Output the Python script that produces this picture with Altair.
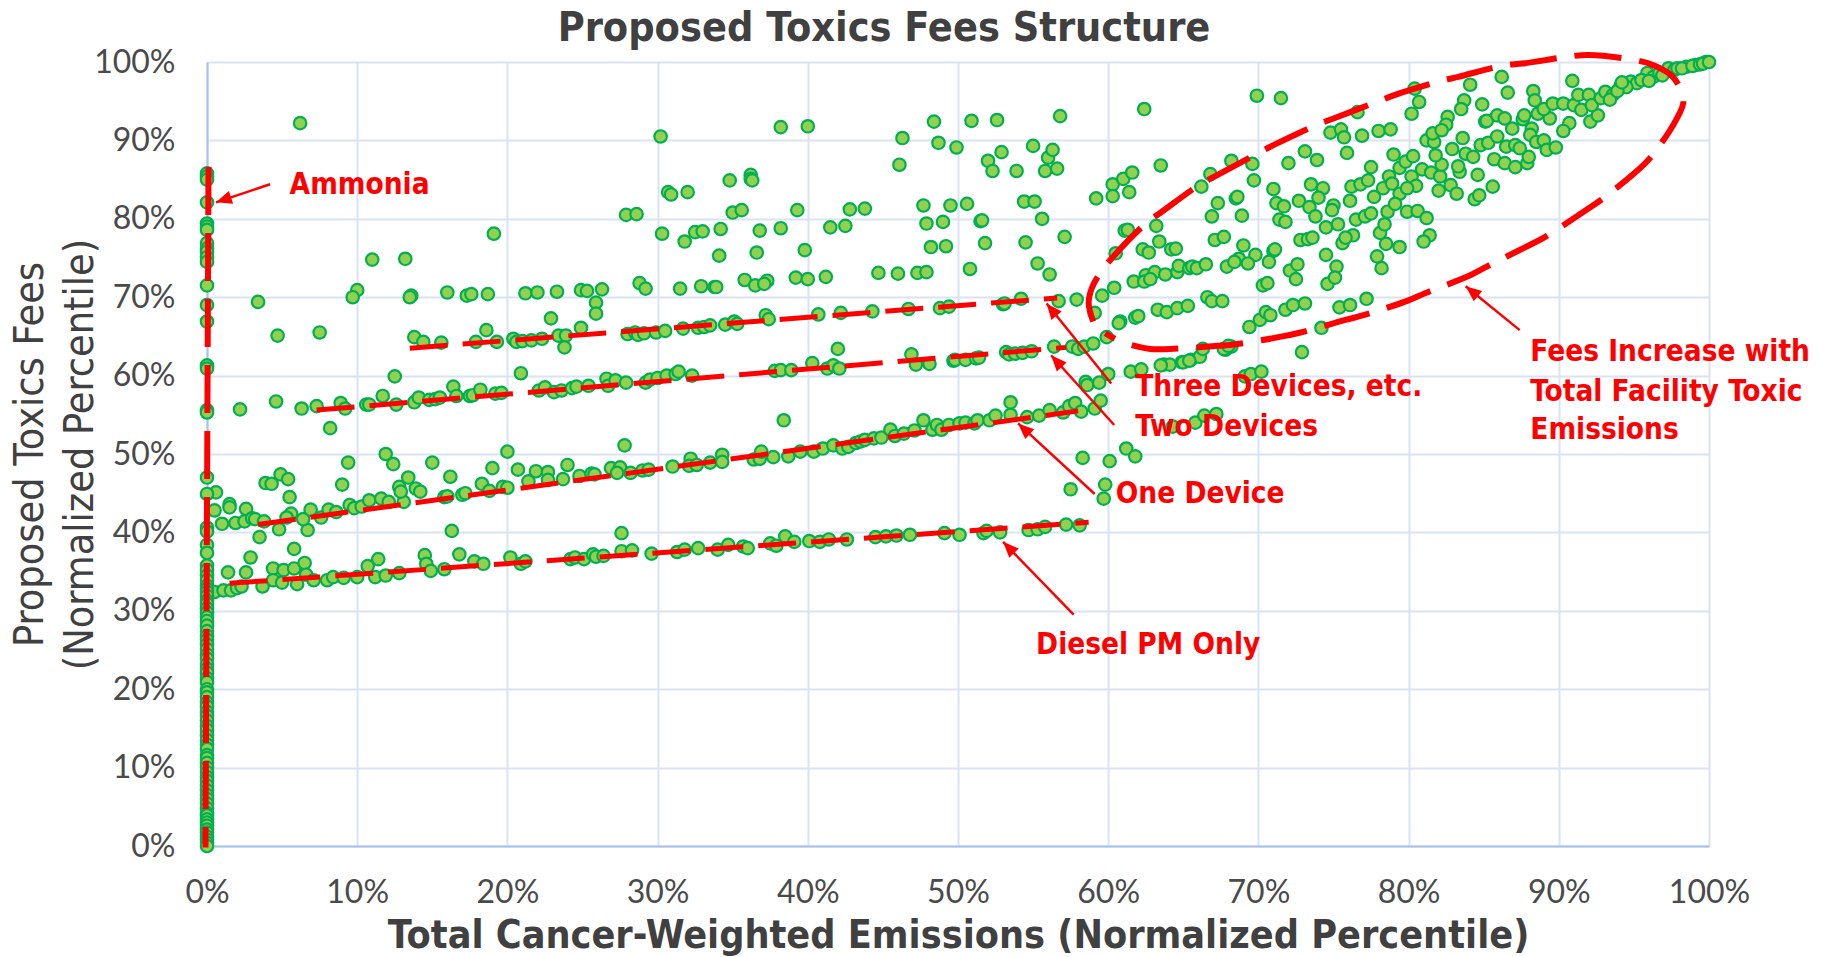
import math
import altair as alt
import pandas as pd

TITLE = "Proposed Toxics Fees Structure"
X_TITLE = "Total Cancer-Weighted Emissions (Normalized Percentile)"
Y_TITLE = ["Proposed Toxics Fees", "(Normalized Percentile)"]

# Facilities with zero cancer-weighted emissions (y values, percent)
column_y = [85.8,85.4,85.0,82.1,79.4,79.0,78.6,76.9,76.2,75.8,75.1,74.5,71.5,69.0,66.9,61.3,60.9,55.6,55.3,47.0,44.9,
            40.6,40.1,38.4,37.4,35.8,35.2,34.5,33.9,33.2,32.8,32.4,31.9,31.3,30.9,30.3,29.8,29.2,28.7,28.1,27.4,26.8,
            26.3,25.7,25.1,24.4,23.9,23.2,22.6,22.1,21.4,20.9,20.0,19.6,19.0,18.3,17.8,17.1,16.6,16.0,15.3,14.8,14.1,
            13.5,12.9,12.4,11.6,11.2,10.6,10.0,9.4,8.8,8.3,7.7,7.1,6.5,6.0,5.4,4.8,4.2,3.9,3.4,3.0,2.6,2.1,1.7,1.2,0.8,0.4,0.0]

upper_left = [(6.2,92.2),(30.2,90.5),(38.2,91.7),(40.0,91.8),(34.8,84.9),(36.2,85.6),(36.2,85.1),(36.3,84.9),(30.7,83.4),(30.9,83.1),
 (32.0,83.4),(27.9,80.5),(28.6,80.6),(35.0,80.8),(35.6,81.1),(30.3,78.1),(31.8,77.1),(32.5,78.3),(33.0,78.4),(34.2,78.7),(36.8,78.5),
 (38.2,78.8),(19.1,78.1),(34.1,75.3),(36.6,75.7),(11.0,74.8),(13.2,74.9),(28.8,71.8),(29.2,71.1),(31.5,71.1),(32.9,71.4),(33.8,71.3),
 (33.9,71.3),(35.8,72.2),(36.5,71.5),(37.3,72.1),(37.1,71.7),(10.0,70.9),(9.7,70.0),(3.4,69.4),(13.6,70.2),(13.5,70.0),(16.0,70.6),
 (17.3,70.2),(17.6,70.4),(18.7,70.4),(21.2,70.5),(22.0,70.6),(23.3,70.7),(24.9,70.9),(25.3,70.8),(26.3,71.0),(25.9,69.3),(25.9,67.9),
 (4.7,65.1),(7.5,65.5),(22.9,67.3),(18.6,65.8)]

mid_scatter = [(48.4,92.4),(50.9,92.5),(52.6,92.6),(56.8,93.1),(62.4,94.0),(46.3,90.3),(46.1,86.9),(48.7,89.7),(49.9,89.1),(52.0,87.4),
 (52.9,88.5),(52.3,86.1),(55.0,89.3),(53.9,86.1),(56.0,87.8),(56.3,88.8),(55.8,86.1),(56.6,86.4),(39.3,81.1),(42.8,81.2),(43.8,81.3),
 (41.5,78.9),(42.5,79.1),(39.8,76.0),(39.2,72.5),(40.0,72.3),(41.2,72.6),(44.7,73.1),(46.0,73.0),(47.3,73.1),(47.9,73.2),(47.7,81.7),
 (49.5,81.7),(50.6,81.9),(47.9,79.4),(49.0,79.6),(51.5,79.7),(51.6,79.8),(48.2,76.4),(49.2,76.5),(51.8,76.9),(54.5,77.0),(50.8,73.6),
 (55.3,74.3),(56.1,72.9),(54.4,82.2),(55.1,82.2),(55.6,80.0),(57.1,77.7)]

band_three = [(13.8,64.9),(14.4,64.3),(15.6,64.2),(17.9,64.3),(19.3,64.3),(20.4,64.7),(20.6,64.3),(21.0,64.4),(21.6,64.5),(22.3,64.7),
 (23.4,65.1),(23.9,65.1),(23.8,63.6),(24.9,66.1),(28.0,65.3),(28.5,65.5),(28.7,65.2),(29.1,65.4),(29.9,65.5),(30.5,65.7),(31.7,66.0),
 (32.7,66.1),(33.1,66.2),(33.5,66.4),(34.5,66.5),(35.1,66.9),(35.3,66.6),(37.2,67.7),(37.4,67.2),(40.7,67.8),(42.2,68.0),(44.3,68.2),
 (46.7,68.5),(48.8,68.6),(49.4,68.8),(53.0,69.1),(53.1,69.2),(54.2,69.8),(56.7,69.5),(57.9,69.7),(59.6,70.2),(60.4,71.2),(59.1,68.0)]

band_two = [(12.5,59.9),(20.9,60.3),(2.2,55.7),(4.6,56.7),(6.3,55.8),(7.3,56.1),(8.9,56.5),(9.2,55.8),(8.2,53.3),(10.6,56.3),(10.8,56.3),
 (11.7,57.4),(12.6,56.3),(13.8,56.6),(14.1,57.2),(14.8,56.9),(15.2,57.0),(15.5,57.2),(16.4,58.6),(16.6,57.4),(17.5,57.4),(17.7,57.5),
 (18.2,58.2),(19.2,57.7),(19.6,57.8),(22.1,58.1),(22.5,58.5),(23.1,57.9),(23.6,58.1),(24.3,58.4),(24.6,58.6),(25.4,58.7),(26.6,59.6),
 (26.7,58.7),(27.2,59.4),(27.9,59.1),(29.2,59.1),(29.5,59.5),(30.0,59.7),(30.6,60.0),(31.2,60.2),(31.4,60.5),(32.3,60.0),(37.8,60.6),
 (38.2,60.7),(38.9,60.7),(40.3,61.6),(41.3,60.9),(41.7,61.3),(42.1,60.9),(42.0,63.4),(46.9,62.7),(47.2,61.4),(48.1,61.5),(49.7,61.9),
 (49.8,62.0),(50.5,62.0),(51.2,62.2),(51.4,62.3),(53.2,63.0),(53.4,62.7),(53.8,62.8),(54.3,62.9),(54.9,63.1),(56.4,63.7),(57.6,63.7),
 (58.0,63.4),(58.4,63.7),(59.0,64.1),(59.9,64.9),(60.0,60.2),(58.5,59.2),(58.6,58.8),(59.4,59.1),(61.5,60.5),(62.2,60.8)]

band_one = [(0.6,45.1),(0.5,42.8),(1.5,43.6),(1.5,43.2),(2.6,43.0),(1.0,41.1),(1.9,41.2),(2.5,41.4),(3.0,41.8),(3.2,41.7),(3.8,41.4),
 (3.5,39.4),(4.8,40.4),(6.7,40.3),(6.4,41.7),(3.9,46.3),(4.3,46.2),(4.9,47.4),(5.4,46.8),(5.5,44.5),(5.6,42.4),(5.3,41.9),(6.9,42.9),
 (7.6,41.9),(8.1,42.9),(8.6,42.6),(9.0,46.1),(9.4,48.9),(11.9,50.0),(12.4,48.7),(9.5,43.5),(9.8,43.1),(10.3,43.3),(10.8,44.1),(11.6,44.3),
 (12.1,43.9),(13.1,43.9),(12.8,45.8),(12.9,45.2),(13.4,47.0),(13.9,45.6),(14.2,45.2),(15.0,48.9),(16.2,47.1),(15.8,44.5),(16.0,44.6),
 (17.0,44.8),(17.2,45.0),(18.3,46.2),(18.8,45.3),(19.7,45.8),(20.0,45.7),(19.0,48.2),(20.0,50.3),(20.7,48.0),(21.9,47.8),(21.4,46.5),
 (22.7,47.7),(22.7,46.7),(23.7,46.8),(24.0,48.6),(24.8,47.2),(25.6,47.5),(25.8,47.4),(26.9,48.2),(27.5,48.3),(27.3,47.6),(28.2,47.6),
 (29.0,47.9),(29.4,48.0),(27.8,51.1),(31.0,48.4),(32.2,49.4),(32.1,48.5),(32.6,48.6),(33.5,48.9),(34.3,49.9),(34.3,49.0),(36.4,49.3),
 (36.8,49.4),(36.9,50.3),(37.7,49.6),(38.4,54.3),(38.7,49.7),(39.5,50.3),(40.4,50.3),(41.0,50.7),(41.7,51.1),(42.3,50.7),(42.7,50.9),
 (43.2,51.4),(43.5,51.6),(43.8,51.8),(44.4,52.0),(44.9,52.1),(45.5,53.1),(45.8,52.3),(46.4,52.6),(47.1,53.0),(47.7,54.3),(48.3,53.1),
 (48.6,53.7),(48.9,53.1),(49.4,53.7),(50.1,53.9),(50.5,54.0),(51.1,53.9),(51.3,54.3),(52.1,54.3),(52.5,54.9),(53.5,55.0),(53.5,56.6),
 (54.6,54.7),(55.4,54.9),(56.1,55.6),(57.0,55.3),(57.4,56.1),(57.8,56.5),(58.2,55.4),(59.1,55.8),(59.5,56.8),(58.3,49.5),(60.1,49.1),
 (61.2,50.7),(61.8,49.7),(57.5,45.5),(59.8,46.1),(59.7,44.3),(64.3,53.5),(65.8,54.0),(66.4,54.9),(67.2,55.1)]

band_diesel = [(16.3,40.2),(27.6,39.9),(5.8,37.9),(2.9,36.8),(2.6,34.9),(1.4,34.9),(14.5,37.1),(14.6,36.0),(16.8,37.2),(11.4,36.6),(10.7,35.7),
 (4.4,35.4),(5.1,35.2),(5.8,35.4),(6.5,36.1),(4.4,33.9),(3.7,33.1),(5.0,33.6),(6.0,33.4),(6.6,34.6),(7.1,33.9),(8.0,33.9),(8.4,34.3),
 (9.1,34.2),(10.0,34.3),(11.2,34.3),(11.9,34.5),(12.8,34.8),(14.9,35.1),(15.8,35.3),(17.8,36.3),(18.4,36.0),(20.2,36.8),(20.9,36.0),
 (21.2,36.3),(24.2,36.6),(24.5,36.8),(25.1,36.6),(25.7,37.2),(25.9,36.9),(26.4,37.0),(27.6,37.6),(28.3,37.7),(29.6,37.3),(31.3,37.5),
 (31.8,37.8),(32.7,38.0),(34.0,37.8),(34.7,38.4),(35.7,38.2),(36.0,38.0),(37.5,38.6),(37.9,38.3),(0.5,32.4),(1.1,32.6),(1.6,32.6),
 (2.0,32.9),(2.3,33.1),(38.5,39.5),(39.1,38.8),(40.1,38.9),(40.8,38.8),(41.4,39.1),(42.6,39.1),(44.5,39.4),(45.2,39.5),(45.9,39.6),
 (46.8,39.7),(49.1,39.9),(50.1,39.7),(51.7,39.9),(51.9,40.2),(52.8,40.0),(54.7,40.3),(55.3,40.4),(55.8,40.7),(57.2,41.0),(58.1,40.9)]

cloud_low = [(72.9,63.0),(63.7,61.4),(64.1,61.4),(64.9,61.7),(65.5,62.0),(66.1,62.4),(67.8,63.3),(68.2,63.7),(69.1,59.9),(69.5,60.2),(70.2,60.5),
 (69.4,66.2),(70.1,67.1),(70.5,68.1),(70.8,67.7),(71.8,68.4),(72.3,69.0),(73.1,69.2),(75.4,68.7),(76.1,69.0),(77.2,69.8),(74.2,66.1),
 (60.8,66.9),(60.7,66.7),(61.8,67.4),(62.0,67.6),(63.3,68.4),(63.9,68.1),(64.6,68.6),(65.3,68.9),(66.6,70.0),(66.9,69.5),(67.6,69.5),
 (67.7,63.4),(68.0,63.8),(66.3,63.4),(65.0,61.7),(65.4,61.9),(63.5,61.3)]

cloud_mid = [(69.9,95.7),(71.5,95.4),(86.2,98.1),(90.9,97.6),(84.1,97.1),(86.6,96.1),(88.3,96.3),(88.4,95.1),(80.4,96.6),(80.7,94.9),(80.2,93.4),
 (83.7,95.1),(83.5,94.0),(84.9,94.6),(76.6,93.6),(74.8,91.0),(75.5,91.4),(75.7,90.4),(76.9,90.6),(78.0,91.2),(78.8,91.4),(63.5,86.8),
 (68.2,87.4),(69.6,87.0),(69.7,84.9),(66.8,85.7),(66.2,84.1),(73.1,88.6),(73.9,87.5),(75.9,88.4),(72.0,87.1),(60.3,84.4),(61.0,85.1),
 (61.6,85.9),(59.2,82.6),(60.3,82.9),(61.4,83.4),(67.3,82.0),(68.5,82.6),(68.6,82.8),(66.9,80.3),(68.9,80.4),(71.0,83.8),(71.2,82.0),
 (71.7,81.6),(71.4,79.9),(71.8,79.6),(72.7,82.3),(73.5,84.4),(74.3,83.9),(74.0,82.7),(75.0,81.7),(74.9,81.1),(73.4,81.5),(73.8,80.3),
 (74.5,78.9),(75.3,79.3),(63.2,79.1),(61.1,78.5),(61.3,78.6),(60.5,75.6),(62.3,76.1),(62.7,75.7),(63.4,77.1),(64.2,76.1),(64.5,76.2),
 (67.1,77.3),(67.7,77.7),(72.8,77.3),(73.3,77.4),(73.6,77.6),(75.6,76.9),(76.3,77.9),(75.8,77.6),(69.0,76.6),(71.0,75.9),(71.1,76.1),
 (69.8,75.4),(68.7,74.9),(67.9,73.9),(69.3,74.3),(70.7,74.5),(68.4,74.5),(61.7,72.0),(62.5,72.8),(63.1,73.2),(62.4,72.0),(62.8,72.3),
 (63.8,72.9),(64.6,73.2),(64.7,74.0),(65.4,73.7),(65.6,73.9),(65.9,73.7),(66.5,74.2),(74.5,75.4),(75.2,73.9),(72.1,73.4),(72.6,74.2),
 (72.5,72.3),(70.3,71.5),(70.6,71.8),(74.6,71.7),(75.1,72.5),(77.9,75.2),(78.2,73.7),(78.5,76.8),(79.4,76.4),(78.1,78.2),(78.4,79.3)]

cloud_high = [(76.5,79.9),(77.1,80.3),(77.5,80.7),(78.6,80.9),(79.9,80.9),(80.6,81.0),(81.2,80.1),(81.4,77.9),(81.0,77.1),(76.1,82.3),
 (77.7,82.8),(76.2,84.1),(76.8,84.4),(77.3,84.9),(78.3,83.9),(78.7,85.4),(78.9,84.5),(79.4,83.2),(80.2,85.4),(80.5,84.2),(79.1,81.9),
 (79.9,83.9),(77.5,86.6),(79.0,88.2),(79.4,86.5),(79.8,87.3),(80.3,88.0),(80.9,86.3),(81.5,85.9),(82.1,85.4),(82.0,83.6),(82.8,84.3),
 (83.2,83.2),(83.4,86.0),(83.3,86.7),(84.6,85.6),(84.4,82.5),(84.7,83.0),(85.6,84.1),(82.2,86.9),(81.8,88.1),(82.9,88.9),(83.6,90.3),
 (81.2,90.0),(81.7,89.8),(81.6,90.9),(82.6,93.0),(82.5,92.0),(82.2,91.3),(83.8,88.3),(84.3,87.9),(84.8,89.4),(85.3,89.7),(85.9,90.5),
 (85.1,92.4),(85.2,92.5),(85.9,93.2),(86.4,92.8),(86.9,91.5),(87.6,92.7),(87.7,93.2),(85.7,87.6),(86.4,87.1),(87.1,86.6),(87.9,87.1),
 (88.0,87.9),(86.5,89.2),(87.1,89.4),(87.4,89.0),(88.2,91.5),(88.1,90.7),(88.5,89.8),(89.0,90.0),(89.2,88.8),(89.8,89.1),(89.4,92.8),
 (88.6,93.4),(89.0,94.0),(89.6,94.7),(90.3,94.7),(90.7,92.2),(90.3,91.2),(91.0,94.5),(91.5,93.9),(91.3,95.8),(92.0,95.8),(92.1,92.4),
 (92.6,93.2),(92.2,94.5),(92.8,95.4),(93.1,96.2),(93.6,95.8),(94.1,96.9),(94.8,97.5),(95.2,97.3),(95.9,98.6),(96.3,98.1),(96.7,98.6),
 (97.3,99.2),(97.7,99.0),(98.5,99.4),(99.1,99.6),(99.8,100.0),(93.4,95.2),(94.5,96.8),(95.5,97.7),(96.0,97.6),(96.9,98.3),(97.9,99.2),
 (98.2,99.2),(98.9,99.5),(99.4,99.7),(99.6,99.8),(100.0,100.0),(93.9,96.3),(94.2,97.4)]

trend_lines = {
    "three": [(13.5,63.5),(56.6,69.9)],
    "two": [(7.3,55.6),(57.2,63.6)],
    "one": [(3.4,41.0),(58.0,55.5)],
    "diesel": [(1.5,33.5),(58.7,41.3)],
}
vertical_line = [(0.1,86.6),(-0.1,-0.2)]
ellipse = [(59.0,66.9),(58.7,69.2),(58.9,71.1),(59.5,73.2),(60.3,75.1),(62.5,79.4),(63.5,80.8),(66.2,84.5),(67.1,85.4),(69.9,88.3),(71.0,89.4),
 (73.9,92.0),(75.0,92.8),(78.0,95.0),(79.1,95.8),(82.2,97.6),(83.3,98.1),(86.4,99.6),(87.6,99.8),(90.7,100.7),(92.0,100.9),(95.2,100.2),
 (96.3,99.6),(97.6,98.1),(98.3,95.1),(97.8,92.6),(96.1,87.8),(95.2,86.1),(92.8,82.4),(91.8,81.1),(89.1,77.7),(88.0,76.6),(85.2,73.9),
 (84.1,72.8),(81.1,70.5),(80.0,69.6),(77.0,67.7),(75.8,67.1),(72.8,65.5),(71.6,65.0),(68.5,64.0),(67.3,63.8),(64.1,63.4),(62.8,63.4),
 (60.9,64.3),(59.8,65.4)]

# tail x, tail y, head x, head y
arrows = [(4.2,84.4,0.6,82.1),(60.2,59.0,55.9,69.2),(60.4,53.7,56.2,62.6),(59.1,44.9,54.0,53.9),(57.7,29.5,53.0,38.8),(87.4,65.8,83.8,71.4)]

notes = ["Ammonia","Three Devices, etc.","Two Devices","One Device","Diesel PM Only","Fees Increase with","Total Facility Toxic","Emissions"]
notes_x = [5.5,61.8,61.8,60.5,55.2,88.1,88.1,88.1]
notes_y = [84.25,58.5,53.5,44.9,25.6,63.0,57.9,53.0]

W, H = 1502, 784
points = upper_left + mid_scatter + band_three + band_two + band_one + band_diesel + cloud_low + cloud_mid + cloud_high + [(0.0, v) for v in column_y]
pts = pd.DataFrame(points, columns=["x", "y"])

xs = alt.Scale(domain=[0, 100], nice=False, clamp=False)
ys = alt.Scale(domain=[0, 100], nice=False, clamp=False)
FONT = "DejaVu Sans Condensed"
LABEL_FONT = "Lato"
pct = "datum.value + '%'"
X = alt.X("x:Q", scale=xs)
Y = alt.Y("y:Q", scale=ys)

base = alt.Chart(pts).mark_circle(size=155, opacity=1, fill="#92D050", stroke="#00B050", strokeWidth=2.2).encode(
    x=alt.X("x:Q", scale=xs, title=X_TITLE,
            axis=alt.Axis(values=list(range(0, 101, 10)), labelExpr=pct, grid=True, gridColor="#D9E3F4", gridWidth=2,
                          domainColor="#A4C2EC", domainWidth=2, ticks=False, labelPadding=31, labelFontSize=32,
                          labelColor="#4A4A4A", labelFont=LABEL_FONT, titleFont=FONT, titleFontSize=39.2, titleFontWeight="bold",
                          titleColor="#404040", titleY=70, labelFlush=False)),
    y=alt.Y("y:Q", scale=ys, title=Y_TITLE,
            axis=alt.Axis(values=list(range(0, 101, 10)), labelExpr=pct, grid=True, gridColor="#D9E3F4", gridWidth=2,
                          domainColor="#A4C2EC", domainWidth=2, ticks=False, labelPadding=32, labelFontSize=32,
                          labelColor="#4A4A4A", labelFont=LABEL_FONT, titleFont=FONT, titleFontSize=41, titleFontWeight="normal",
                          titleColor="#404040", titleX=-156, titleLineHeight=50)),
)

def dashed(rows, dash, width=5.0, order=False):
    df = pd.DataFrame(rows, columns=["x", "y"])
    df["i"] = range(len(df))
    mk = alt.Chart(df).mark_line(color="#FF0000", strokeWidth=width, strokeDash=dash, clip=False,
                                 interpolate="catmull-rom" if order else "linear", strokeCap="butt")
    return mk.encode(x=X, y=Y, order="i:Q")

layers = [base]
for seg in trend_lines.values():
    layers.append(dashed(seg, [38, 15]))
layers.append(dashed(vertical_line, [48, 18], width=6))
layers.append(dashed(ellipse, [47, 18], width=6, order=True))

# arrows: shaft and head
shaft_rows, head_rows = [], []
for k, (tx, ty, hx, hy) in enumerate(arrows):
    shaft_rows += [dict(k=k, x=tx, y=ty), dict(k=k, x=hx, y=hy)]
    dx = (hx - tx) * W / 100
    dy = -(hy - ty) * H / 100
    head_rows.append(dict(x=hx, y=hy, a=math.degrees(math.atan2(dx, -dy)) % 360))
layers.append(alt.Chart(pd.DataFrame(shaft_rows)).mark_line(color="#FF0000", strokeWidth=2.5).encode(x=X, y=Y, detail="k:N"))
layers.append(alt.Chart(pd.DataFrame(head_rows)).mark_point(shape="M0,0L-.42,1L.42,1Z", filled=True, size=1000, color="#FF0000", opacity=1).encode(
    x=X, y=Y, angle=alt.Angle("a:Q", scale=None)))

layers.append(alt.Chart(pd.DataFrame(dict(t=notes, x=notes_x, y=notes_y))).mark_text(
    align="left", baseline="middle", color="#FF0000", font=FONT, fontSize=29.5, fontWeight="bold").encode(x=X, y=Y, text="t:N"))

chart = alt.layer(*layers).properties(
    width=W, height=H,
    title=alt.TitleParams(TITLE, font=FONT, fontSize=41, fontWeight="bold", color="#404040", anchor="middle", offset=8, dx=-74, dy=15),
    autosize="none",
    padding={"left": 199, "top": 54, "right": 100, "bottom": 111},
).configure_view(stroke=None)

chart.save("out.html", embed_options={"renderer": "svg", "actions": False})
